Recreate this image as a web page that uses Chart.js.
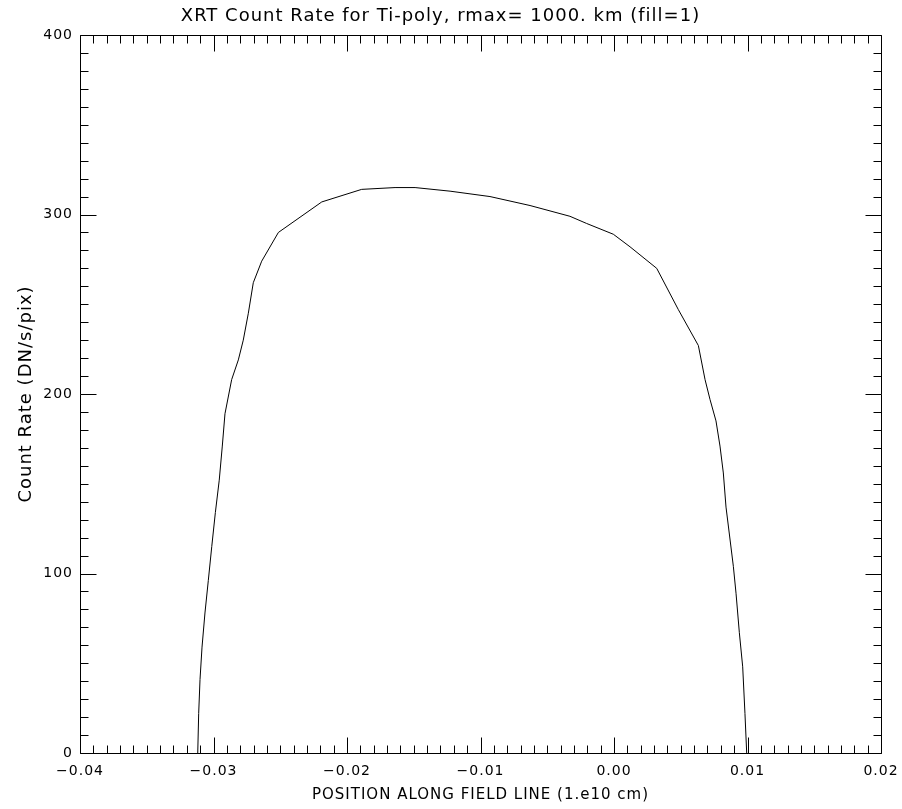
<!DOCTYPE html>
<html><head><meta charset="utf-8">
<script src="https://cdn.jsdelivr.net/npm/chart.js@4/dist/chart.umd.min.js"></script>
<style>html,body{margin:0;padding:0;background:#fff;}canvas{display:block;}</style>
</head><body>
<canvas id="c" width="902" height="809" style="width:902px;height:809px"></canvas>
<script>
const titleText = 'XRT Count Rate for Ti-poly, rmax= 1000. km (fill=1)';
const xAxisTitle = 'POSITION ALONG FIELD LINE (1.e10 cm)';
const yAxisTitle = 'Count Rate (DN/s/pix)';
const xTicks = [-0.04, -0.03, -0.02, -0.01, 0.00, 0.01, 0.02];
const yTicks = [0, 100, 200, 300, 400];
const xMinorPerMajor = 10;
const yMinorPerMajor = 10;
const position = [-0.03118,-0.03111,-0.03101,-0.03086,-0.03064,-0.03039,-0.03013,-0.02986,-0.02957,-0.02934,
  -0.02914,-0.02864,-0.02814,-0.02777,-0.02739,-0.02702,-0.02639,-0.02514,-0.02189,-0.01890,
  -0.01640,-0.01490,-0.01228,-0.00929,-0.00629,-0.00330,-0.00205,-0.00005,0.00120,0.00320,
  0.00482,0.00632,0.00682,0.00719,0.00764,0.00794,0.00819,0.00839,0.00864,0.00894,
  0.00914,0.00939,0.00964,0.00981,0.00994];
const countRate = [0,22,41,59,78,96,115,134,152,171,
  189,208,219,230,245,262,274,290,307,314,
  315,315,313,310,305,299,295,289,282,270,
  247,227,208,197,185,171,156,137,122,104,
  89,67,48,22,0];

const FONT = 'DejaVu Sans';
const fmtX = v => { const s = Math.abs(v).toFixed(2); return (v < -1e-9 ? '\u2212' : '') + s; };

const frame = {
  id: 'frame',
  beforeDraw(chart) { chart.ctx.letterSpacing = '1px'; },
  afterDraw(chart) {
    const {ctx, chartArea: a, scales: {x, y}} = chart;
    ctx.save();
    ctx.strokeStyle = '#000';
    ctx.lineWidth = 1;
    const L = Math.round(a.left) + 0.5, R = Math.round(a.right) + 0.5;
    const T = Math.round(a.top) + 0.5, B = Math.round(a.bottom) + 0.5;
    ctx.beginPath();
    ctx.rect(L, T, R - L, B - T);
    const major = 16, minor = 8;
    for (let k = 0; k < xTicks.length; k++) {
      const px = Math.round(x.getPixelForValue(xTicks[k])) + 0.5;
      ctx.moveTo(px, B); ctx.lineTo(px, B - major);
      ctx.moveTo(px, T); ctx.lineTo(px, T + major);
      if (k < xTicks.length - 1) {
        for (let j = 1; j < xMinorPerMajor; j++) {
          const v = xTicks[k] + (xTicks[k + 1] - xTicks[k]) * j / xMinorPerMajor;
          const p = Math.round(x.getPixelForValue(v)) + 0.5;
          ctx.moveTo(p, B); ctx.lineTo(p, B - minor);
          ctx.moveTo(p, T); ctx.lineTo(p, T + minor);
        }
      }
    }
    for (let k = 0; k < yTicks.length; k++) {
      const py = Math.round(y.getPixelForValue(yTicks[k])) + 0.5;
      ctx.moveTo(L, py); ctx.lineTo(L + major, py);
      ctx.moveTo(R, py); ctx.lineTo(R - major, py);
      if (k < yTicks.length - 1) {
        for (let j = 1; j < yMinorPerMajor; j++) {
          const v = yTicks[k] + (yTicks[k + 1] - yTicks[k]) * j / yMinorPerMajor;
          const p = Math.round(y.getPixelForValue(v)) + 0.5;
          ctx.moveTo(L, p); ctx.lineTo(L + minor, p);
          ctx.moveTo(R, p); ctx.lineTo(R - minor, p);
        }
      }
    }
    ctx.stroke();
    ctx.restore();
  }
};

new Chart(document.getElementById('c'), {
  type: 'scatter',
  data: {
    datasets: [{
      data: position.map((p, i) => ({x: p, y: countRate[i]})),
      showLine: true,
      borderColor: '#000',
      borderWidth: 1,
      pointRadius: 0,
      tension: 0,
      fill: false
    }]
  },
  options: {
    responsive: false,
    animation: false,
    devicePixelRatio: 1,
    layout: {padding: {left: 0, right: 21, top: 0, bottom: 0}},
    plugins: {
      legend: {display: false},
      tooltip: {enabled: false},
      title: {
        display: true,
        text: titleText,
        color: '#000',
        font: {family: FONT, size: 18, weight: 'normal', lineHeight: 1.2},
        padding: {top: 5.2, bottom: 8.2}
      }
    },
    scales: {
      x: {
        type: 'linear',
        position: 'bottom',
        min: -0.04, max: 0.02,
        grid: {display: false, drawTicks: false},
        border: {display: false},
        afterBuildTicks: s => { s.ticks = xTicks.map(v => ({value: v})); },
        afterFit: s => { s.height = 56; s.paddingLeft = 0; s.paddingRight = 0; },
        ticks: {
          color: '#000', padding: 9.6, maxRotation: 0, autoSkip: false,
          font: {family: FONT, size: 14, lineHeight: 1.2},
          callback: v => fmtX(v)
        },
        title: {
          display: true, text: xAxisTitle, color: '#000',
          font: {family: FONT, size: 15, lineHeight: 1.2},
          padding: {top: 0, bottom: 5}
        }
      },
      y: {
        type: 'linear',
        position: 'left',
        min: 0, max: 400,
        grid: {display: false, drawTicks: false},
        border: {display: false},
        afterBuildTicks: s => { s.ticks = yTicks.map(v => ({value: v})); },
        afterFit: s => { s.width = 80; s.paddingTop = 0; s.paddingBottom = 0; },
        ticks: {
          color: '#000', padding: 7,
          font: {family: FONT, size: 14},
          callback: v => String(v)
        },
        title: {
          display: true, text: yAxisTitle, color: '#000',
          font: {family: FONT, size: 18, lineHeight: 1.2},
          padding: {top: 15.5, bottom: 0}
        }
      }
    }
  },
  plugins: [frame]
});
</script>
</body></html>
